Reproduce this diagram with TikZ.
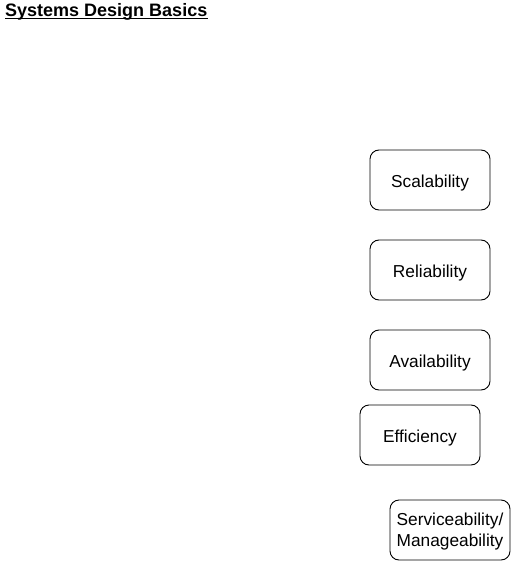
\documentclass[tikz,border=0pt]{standalone}
\usepackage{fontspec}
\setmainfont{Liberation Sans}
\begin{document}
\begin{tikzpicture}[x=1pt,y=-1pt,
  qbox/.style={draw=black,line width=0.9pt,rounded corners=9pt,minimum width=120pt,minimum height=60pt,align=center,inner sep=2pt,text height=14pt,text depth=0pt,font=\fontsize{17.3pt}{21pt}\selectfont}]
\useasboundingbox (0,0) rectangle (511,561);
\node[anchor=west,inner sep=0pt,font=\bfseries\fontsize{18pt}{21pt}\selectfont] (title) at (5,11.5) {Systems Design Basics};
\draw[line width=1.5pt] ([yshift=-2.5pt]title.base west) -- ([yshift=-2.5pt]title.base east);
\node[qbox] (scal) at (430,180) {Scalability};
\node[qbox] (rel) at (430,270) {Reliability};
\node[qbox] (avail) at (430,360) {Availability};
\node[qbox] (eff) at (420,435) {Efficiency};
\node[qbox,text height=,text depth=-4.4pt] (serv) at (450,530) {Serviceability/\\Manageability};
\end{tikzpicture}
\end{document}
